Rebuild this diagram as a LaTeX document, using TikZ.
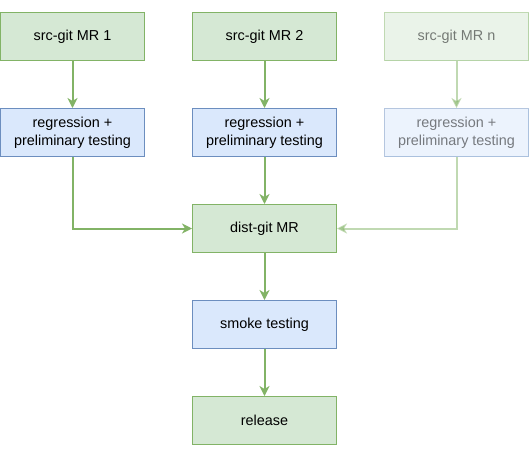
\documentclass[tikz,border=0pt]{standalone}
\usepackage{fontspec}
\setmainfont{Liberation Sans}
\usetikzlibrary{arrows.meta}
\definecolor{gfill}{HTML}{D5E8D4}
\definecolor{gline}{HTML}{82B366}
\definecolor{bfill}{HTML}{DAE8FC}
\definecolor{bline}{HTML}{6C8EBF}
\begin{document}
\begin{tikzpicture}[x=1pt,y=-1pt,
  gbox/.style={draw=gline,fill=gfill,line width=1pt,minimum width=144pt,minimum height=48pt,inner sep=0pt,align=center,font=\fontsize{14.4}{18}\selectfont},
  bbox/.style={draw=bline,fill=bfill,line width=1pt,minimum width=144pt,minimum height=48pt,inner sep=0pt,align=center,font=\fontsize{14.4}{18}\selectfont},
  faded/.style={opacity=0.5},
  conn/.style={draw=gline,line width=2pt,-{Stealth[length=10pt,width=10pt,inset=3pt]}}]
\useasboundingbox (0,0) rectangle (530,456);
\node[gbox] (mr1) at (72.5,36.5) {src-git MR 1};
\node[gbox] (mr2) at (264.5,36.5) {src-git MR 2};
\node[gbox,faded] (mrn) at (456.5,36.5) {src-git MR n};
\node[bbox] (r1) at (72.5,132.5) {regression +\\preliminary testing};
\node[bbox] (r2) at (264.5,132.5) {regression +\\preliminary testing};
\node[bbox,faded] (rn) at (456.5,132.5) {regression +\\preliminary testing};
\node[gbox] (dg) at (264.5,228.5) {dist-git MR};
\node[bbox] (sm) at (264.5,324.5) {smoke testing};
\node[gbox] (rel) at (264.5,420.5) {release};
\draw[conn] (mr1) -- (r1);
\draw[conn] (mr2) -- (r2);
\draw[conn,faded] (mrn) -- (rn);
\draw[conn] (r1) |- (dg);
\draw[conn] (r2) -- (dg);
\draw[conn,faded] (rn) |- (dg);
\draw[conn] (dg) -- (sm);
\draw[conn] (sm) -- (rel);
\end{tikzpicture}
\end{document}
